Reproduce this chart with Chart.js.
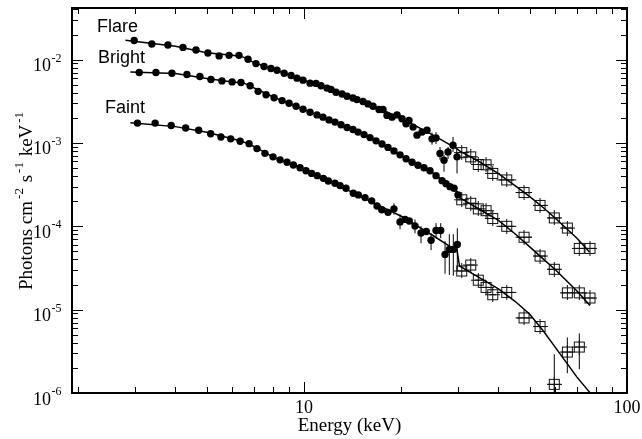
<!DOCTYPE html>
<html>
<head>
<meta charset="utf-8">
<title>Spectra</title>
<script src="https://cdn.jsdelivr.net/npm/chart.js@4.4.1/dist/chart.umd.min.js"></script>
<style>
  html, body { margin: 0; padding: 0; background: #fff; }
  canvas { display: block; }
</style>
</head>
<body>
<canvas id="spectrum" width="642" height="439"></canvas>
<script>
// ---- values: energy (keV), flux (photons cm^-2 s^-1 keV^-1) ----

// low-energy instrument (filled circles)
const flareE = [2.98, 3.38, 3.79, 4.22, 4.63, 5.04, 5.46, 5.86, 6.29, 6.71, 7.10, 7.52, 7.90, 8.25, 8.68, 9.12, 9.51, 9.93, 10.44, 10.89,
  11.29, 11.78, 12.12, 12.56, 13.11, 13.59, 14.18, 14.59, 15.23, 15.78, 16.36, 17.07, 17.56, 18.07, 18.73, 19.41, 20.11, 20.70, 21.14, 21.76,
  22.38, 23.19, 24.03, 24.91, 25.63, 26.37, 27.13, 27.92, 28.93, 29.77];
const flareF = [0.01698, 0.01538, 0.01496, 0.01400, 0.01305, 0.01202, 0.01107, 0.01125, 0.01125, 0.01008, 0.00896, 0.00825, 0.00781, 0.00746, 0.00687, 0.00645, 0.00599, 0.00567, 0.00522, 0.00518,
  0.00486, 0.00455, 0.00439, 0.00405, 0.00386, 0.00363, 0.00346, 0.00331, 0.00314, 0.00294, 0.00276, 0.00252, 0.00252, 0.00214, 0.00204, 0.00217, 0.00195, 0.00170, 0.00186, 0.00155,
  0.00124, 0.00135, 0.00142, 0.00112, 0.00115, 0.000746, 0.000622, 0.000781, 0.000939, 0.000681];

const brightE = [3.09, 3.48, 3.90, 4.34, 4.76, 5.15, 5.57, 5.99, 6.38, 6.81, 7.21, 7.63, 8.08, 8.55, 8.99, 9.45, 9.93, 10.44, 10.97, 11.45,
  11.95, 12.47, 13.02, 13.59, 14.18, 14.70, 15.34, 16.01, 16.71, 17.44, 18.20, 18.99, 19.83, 20.70, 21.60, 22.54, 23.52, 24.55, 25.63, 26.75,
  27.53, 28.31, 29.14, 29.98];
const brightF = [0.00700, 0.00700, 0.00687, 0.00663, 0.00627, 0.00578, 0.00555, 0.00540, 0.00532, 0.00486, 0.00416, 0.00378, 0.00348, 0.00322, 0.00299, 0.00276, 0.00254, 0.00234, 0.00217, 0.00204,
  0.00189, 0.00178, 0.00165, 0.00153, 0.00145, 0.00135, 0.00126, 0.00116, 0.00106, 0.000973, 0.000884, 0.000803, 0.000720, 0.000645, 0.000586, 0.000540, 0.000504, 0.000464, 0.000405, 0.000353,
  0.000325, 0.000299, 0.000286, 0.000238];

const faintE = [3.05, 3.46, 3.88, 4.30, 4.72, 5.14, 5.53, 5.93, 6.34, 6.76, 7.15, 7.57, 8.02, 8.43, 8.86, 9.27, 9.72, 10.14, 10.56, 10.99,
  11.48, 11.89, 12.47, 12.93, 13.49, 14.21, 14.73, 15.45, 16.20, 16.83, 17.40, 18.20, 18.99, 19.83, 20.55, 21.18, 22.06, 23.03, 23.91, 24.74,
  25.63, 26.50, 27.33, 28.18, 28.99, 29.83];
const faintF = [0.00173, 0.00173, 0.00162, 0.00151, 0.00142, 0.00129, 0.00118, 0.00112, 0.00105, 0.000981, 0.000855, 0.000750, 0.000681, 0.000627, 0.000586, 0.000543, 0.000504, 0.000464, 0.000431, 0.000405,
  0.000376, 0.000350, 0.000328, 0.000308, 0.000286, 0.000249, 0.000238, 0.000221, 0.000202, 0.000175, 0.000158, 0.000147, 0.000162, 0.000113, 0.000121, 0.000116, 0.000101, 0.0000832, 0.0000865, 0.0000681,
  0.0000889, 0.0000889, 0.0000460, 0.0000528, 0.0000528, 0.0000605];

// visible vertical error bars on the circles
const flareErrE = [24.91, 25.63, 26.37, 27.13, 27.92, 28.93, 29.77];
const flareErrHi = [0.00133, 0.00135, 0.000896, 0.000720, 0.000896, 0.00118, 0.000781];
const flareErrLo = [0.000954, 0.000973, 0.000627, 0.000452, 0.000645, 0.000781, 0.000431];

const faintErrE = [18.99, 19.83, 22.06, 23.03, 24.74, 25.63, 26.50, 27.33, 28.18, 28.99, 29.83];
const faintErrHi = [0.000189, 0.000139, 0.000121, 0.000100, 0.0000825, 0.000109, 0.000109, 0.0000663, 0.0000803, 0.0000803, 0.0000946];
const faintErrLo = [0.000138, 0.0000921, 0.0000825, 0.0000627, 0.0000518, 0.0000720, 0.0000720, 0.0000270, 0.0000261, 0.0000255, 0.0000291];

// high-energy instrument (open squares), shared bins
const sqE = [30.78, 32.82, 34.64, 36.60, 38.39, 42.43, 47.99, 53.79, 59.55, 65.35, 71.18, 76.80];
const sqHalfW = [1.0, 1.0, 0.9, 1.0, 0.9, 3.0, 2.8, 2.4, 2.8, 2.7, 2.4, 2.8];
const flareSqF = [0.000766, 0.000681, 0.000552, 0.000547, 0.000431, 0.000360, 0.000254, 0.000178, 0.000126, 0.0000954, 0.0000543, 0.0000543];
const brightSqF = [0.000208, 0.000189, 0.000162, 0.000154, 0.000124, 0.000100, 0.0000740, 0.0000440, 0.0000305, 0.0000159, 0.0000159, 0.0000138];
const faintSqF = [0.0000291, 0.0000343, 0.0000226, 0.0000185, 0.0000151, 0.0000161, 0.00000796, 0.00000627, 0.00000127, 0.0000031, 0.00000356];
const faintSqErrE = [59.55, 65.35, 71.18];
const faintSqErrHi = [0.00000291, 0.00000464, 0.00000518];
const faintSqErrLo = [0.0000005, 0.00000173, 0.00000193];

// best-fit models
const flareModelE = [2.8, 4, 5, 6, 6.5, 7, 8, 10, 12, 15, 20, 25, 29.8, 30.3, 35, 40, 45, 50, 55, 60, 70, 76.5];
const flareModelF = [0.01707, 0.01448, 0.01212, 0.01131, 0.01071, 0.00921, 0.00771, 0.00562, 0.00445, 0.00321, 0.00198, 0.00125, 0.000848, 0.000803, 0.000594, 0.000428, 0.000308, 0.000227, 0.000168, 0.000125, 0.0000720, 0.0000490];
const brightModelE = [2.9, 4, 5, 6, 6.5, 7, 8, 10, 12, 15, 20, 25, 29.8, 30.3, 35, 40, 45, 50, 55, 60, 70, 76.8];
const brightModelF = [0.00710, 0.00681, 0.00594, 0.00540, 0.00525, 0.00458, 0.00358, 0.00251, 0.00188, 0.00132, 0.000700, 0.000439, 0.000261, 0.000221, 0.000159, 0.000118, 0.0000814, 0.0000566, 0.0000407, 0.0000301, 0.0000167, 0.0000112];
const faintModelE = [2.9, 4, 5, 6, 6.5, 7, 8, 10, 12, 15, 20, 25, 29.8, 30.3, 35, 40, 45, 50, 55, 60, 70, 76.8];
const faintModelF = [0.00175, 0.00157, 0.00134, 0.00112, 0.00103, 0.000908, 0.000681, 0.000484, 0.000348, 0.000227, 0.000132, 0.0000781, 0.0000504, 0.0000334, 0.0000240, 0.0000178, 0.0000126, 0.00000881, 0.00000558, 0.00000353, 0.00000155, 0.00000101];

// axes
const xMin = 1.913, xMax = 100;
const yMin = 1e-6, yMax = 0.0416;
const xLabelVals = [10, 100];
const yLabelExps = [-6, -5, -4, -3, -2];

const serif = '"Liberation Serif", "DejaVu Serif", serif';
const sans = '"Liberation Sans", Arial, sans-serif';

function pairs(xs, ys) {
  return xs.map((v, i) => ({ x: v, y: ys[i] }));
}

// open square with a cross through it
const sqMarker = (() => {
  const c = document.createElement('canvas');
  c.width = 15; c.height = 15;
  const g = c.getContext('2d');
  g.strokeStyle = '#111';
  g.lineWidth = 1;
  g.strokeRect(2.5, 2.5, 10, 10);
  g.beginPath();
  g.moveTo(0, 7.5); g.lineTo(15, 7.5);
  g.moveTo(7.5, 0); g.lineTo(7.5, 15);
  g.stroke();
  return c;
})();

const circleStyle = { pointStyle: 'circle', pointRadius: 3.7, backgroundColor: '#000', borderColor: '#000', borderWidth: 0, showLine: false };
const squareStyle = { pointStyle: sqMarker, pointRadius: 7, showLine: false };
const modelStyle = { showLine: true, pointRadius: 0, borderColor: '#000', borderWidth: 1.5, fill: false, tension: 0 };

const yErrSets = [
  { e: flareErrE, hi: flareErrHi, lo: flareErrLo },
  { e: faintErrE, hi: faintErrHi, lo: faintErrLo },
  { e: faintSqErrE, hi: faintSqErrHi, lo: faintSqErrLo }
];
const xErrSets = [flareSqF, brightSqF, faintSqF];

// error bars under the markers
const errorBars = {
  id: 'errorBars',
  beforeDatasetsDraw(chart) {
    const { ctx, chartArea: a, scales: { x, y } } = chart;
    ctx.save();
    ctx.beginPath();
    ctx.rect(a.left, a.top, a.right - a.left, a.bottom - a.top);
    ctx.clip();
    ctx.strokeStyle = '#000';
    ctx.lineWidth = 1;
    ctx.beginPath();
    yErrSets.forEach(s => s.e.forEach((e, i) => {
      const px = x.getPixelForValue(e);
      ctx.moveTo(px, y.getPixelForValue(s.hi[i]));
      ctx.lineTo(px, y.getPixelForValue(s.lo[i]));
    }));
    xErrSets.forEach(f => f.forEach((v, i) => {
      const py = y.getPixelForValue(v);
      ctx.moveTo(x.getPixelForValue(sqE[i] - sqHalfW[i]), py);
      ctx.lineTo(x.getPixelForValue(sqE[i] + sqHalfW[i]), py);
    }));
    ctx.stroke();
    ctx.restore();
  }
};

// frame, inward ticks, labels
const axes = {
  id: 'axes',
  afterDraw(chart) {
    const { ctx, chartArea: a, scales: { x, y } } = chart;
    ctx.save();
    ctx.strokeStyle = '#000';
    ctx.lineWidth = 2;
    ctx.strokeRect(a.left, a.top, a.right - a.left, a.bottom - a.top);

    ctx.lineWidth = 1;
    ctx.beginPath();
    for (const d of [1, 10, 100]) {
      for (let k = 1; k < 10; k++) {
        const v = k * d;
        if (v < xMin || v > xMax) continue;
        const px = Math.round(x.getPixelForValue(v)) + 0.5;
        const len = k === 1 ? 11 : 6;
        ctx.moveTo(px, a.bottom); ctx.lineTo(px, a.bottom - len);
        ctx.moveTo(px, a.top); ctx.lineTo(px, a.top + len);
      }
    }
    for (let p = -6; p <= -1; p++) {
      for (let k = 1; k < 10; k++) {
        const v = k * Math.pow(10, p);
        if (v < yMin * 0.999 || v > yMax) continue;
        const py = Math.round(y.getPixelForValue(v)) + 0.5;
        const len = k === 1 ? 11 : 6;
        ctx.moveTo(a.left, py); ctx.lineTo(a.left + len, py);
        ctx.moveTo(a.right, py); ctx.lineTo(a.right - len, py);
      }
    }
    ctx.stroke();

    ctx.fillStyle = '#000';
    // x tick labels
    ctx.font = '18px ' + serif;
    ctx.textAlign = 'center';
    ctx.textBaseline = 'alphabetic';
    xLabelVals.forEach(v => ctx.fillText(String(v), x.getPixelForValue(v), a.bottom + 20));

    // y tick labels: 10 with superscript exponent
    ctx.textAlign = 'left';
    yLabelExps.forEach(p => {
      const py = y.getPixelForValue(Math.pow(10, p));
      ctx.font = '12px ' + serif;
      const sw = ctx.measureText(String(p)).width;
      ctx.font = '18px ' + serif;
      const bw = ctx.measureText('10').width;
      const x0 = a.left - 11 - sw - bw;
      ctx.fillText('10', x0, py + 11.5);
      ctx.font = '12px ' + serif;
      ctx.fillText(String(p), x0 + bw + 0.5, py + 2);
    });

    // x title
    ctx.font = '19px ' + serif;
    ctx.textAlign = 'center';
    ctx.fillText('Energy (keV)', (a.left + a.right) / 2, 431);

    // y title, rotated
    const parts = [['Photons cm', 0], ['-2', 1], [' s', 0], ['-1', 1], [' keV', 0], ['-1', 1]];
    const fontFor = s => (s ? '13px ' : '19px ') + serif;
    let total = 0;
    const widths = parts.map(([t, s]) => {
      ctx.font = fontFor(s);
      const w = ctx.measureText(t).width + (s ? 3 : 0);
      total += w;
      return w;
    });
    ctx.translate(32, (a.top + a.bottom) / 2);
    ctx.rotate(-Math.PI / 2);
    ctx.textAlign = 'left';
    let cx = -total / 2;
    parts.forEach(([t, s], i) => {
      ctx.font = fontFor(s);
      ctx.fillText(t, cx + (s ? 2 : 0), s ? -9 : 0);
      cx += widths[i];
    });
    ctx.restore();

    // series names
    ctx.save();
    ctx.fillStyle = '#000';
    ctx.font = '18px ' + sans;
    ctx.textAlign = 'left';
    ctx.fillText('Flare', 97, 32);
    ctx.fillText('Bright', 98, 63);
    ctx.fillText('Faint', 105, 113);
    ctx.restore();
  }
};

new Chart(document.getElementById('spectrum'), {
  type: 'scatter',
  data: {
    datasets: [
      { label: 'Flare model', data: pairs(flareModelE, flareModelF), ...modelStyle },
      { label: 'Bright model', data: pairs(brightModelE, brightModelF), ...modelStyle },
      { label: 'Faint model', data: pairs(faintModelE, faintModelF), ...modelStyle },
      { label: 'Flare', data: pairs(flareE, flareF), ...circleStyle },
      { label: 'Bright', data: pairs(brightE, brightF), ...circleStyle },
      { label: 'Faint', data: pairs(faintE, faintF), ...circleStyle },
      { label: 'Flare HE', data: pairs(sqE, flareSqF), ...squareStyle },
      { label: 'Bright HE', data: pairs(sqE, brightSqF), ...squareStyle },
      { label: 'Faint HE', data: pairs(sqE, faintSqF), ...squareStyle }
    ]
  },
  options: {
    responsive: false,
    animation: false,
    events: [],
    layout: { padding: { left: 72, right: 15, top: 5, bottom: 46 } },
    plugins: { legend: { display: false }, tooltip: { enabled: false } },
    scales: {
      x: { type: 'logarithmic', min: xMin, max: xMax, display: false },
      y: { type: 'logarithmic', min: yMin, max: yMax, display: false }
    }
  },
  plugins: [errorBars, axes]
});
</script>
</body>
</html>
